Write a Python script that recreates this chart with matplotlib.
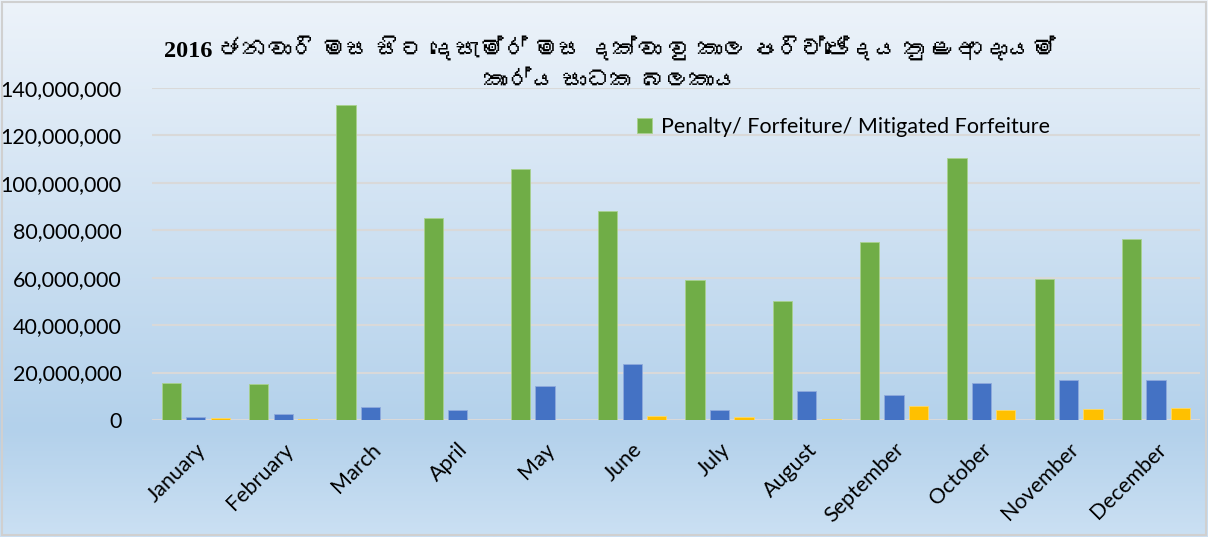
import matplotlib
matplotlib.use("Agg")
import matplotlib.pyplot as plt
from matplotlib import font_manager
from matplotlib.ticker import FuncFormatter
import numpy as np

months = ["January", "February", "March", "April", "May", "June", "July",
          "August", "September", "October", "November", "December"]
penalty = [15.6, 15.2, 132.9, 85.2, 105.9, 88.2, 59.1, 50.2, 75.1, 110.5, 59.5, 76.4]
series2 = [1.4, 2.7, 5.5, 4.2, 14.3, 23.5, 4.2, 12.4, 10.5, 15.6, 16.7, 16.9]
series3 = [0.8, 0.3, 0.0, 0.0, 0.0, 1.8, 1.2, 0.3, 6.0, 4.2, 4.6, 5.2]
title = "2016 ජනවාරි මස සිට දෙසැම්ර් මස දක්වා වු කාල පරිච්ඡේදය තුළ ආදායම්\nකාර්ය සාධක බලකාය"


def find_sinhala_font():
    # look for any installed font that covers Sinhala
    try:
        from fontTools.ttLib import TTFont
    except ImportError:
        return None
    for f in font_manager.fontManager.ttflist:
        try:
            tt = TTFont(f.fname, fontNumber=0, lazy=True)
            cmap = tt.getBestCmap()
            if cmap and 0x0DA2 in cmap and 0x0DD2 in cmap:
                return f.name
        except Exception:
            continue
    return None


sin_font = find_sinhala_font()
title_family = ["Liberation Serif"] + ([sin_font] if sin_font else []) + ["DejaVu Sans"]

plt.rcParams["font.family"] = ["Lato", "DejaVu Sans"]

fig = plt.figure(figsize=(12.08, 5.37), dpi=100)

# background gradient, light at top, bluer near the month labels
bg = fig.add_axes([0, 0, 1, 1], zorder=-10)
top_c = np.array([0xed, 0xf3, 0xfa]) / 255
mid_c = np.array([0xb3, 0xd1, 0xeb]) / 255
bot_c = np.array([0xcb, 0xe0, 0xf3]) / 255
t = np.linspace(0, 1, 300)[:, None]
grad = np.where(t < 0.8, top_c + (mid_c - top_c) * (t / 0.8),
                mid_c + (bot_c - mid_c) * ((t - 0.8) / 0.2))
bg.imshow(grad[:, None, :].repeat(2, axis=1), aspect="auto", extent=[0, 1, 0, 1],
          origin="upper")
bg.axis("off")
fig.patches.append(plt.Rectangle((0.002, 0.003), 0.996, 0.994, transform=fig.transFigure,
                                 fill=False, edgecolor="#d0d0d0", linewidth=1.5))

ax = fig.add_axes([0.126, 0.218, 0.867, 0.618])
ax.patch.set_alpha(0)

x = np.arange(len(months))
w = 0.22
step = 0.28
vals = [np.array(v) * 1e6 for v in (penalty, series2, series3)]
ax.bar(x - step, vals[0], w, color="#70ad47", edgecolor="#a9d18e", linewidth=0.6,
       label="Penalty/ Forfeiture/ Mitigated Forfeiture", zorder=3)
ax.bar(x, vals[1], w, color="#4472c4", edgecolor="#8faadc", linewidth=0.6, zorder=3)
ax.bar(x + step, vals[2], w, color="#ffc000", edgecolor="#ffd966", linewidth=0.6, zorder=3)

ax.set_xlim(-0.5, 11.5)
ax.set_ylim(0, 140e6)
ax.set_yticks(np.arange(0, 140e6 + 1, 20e6))
ax.yaxis.set_major_formatter(FuncFormatter(lambda v, p: f"{int(v):,}"))
ax.grid(axis="y", color="#d9d9d9", linewidth=1.5, zorder=0)
for s in ax.spines.values():
    s.set_visible(False)
ax.tick_params(length=0)
ax.tick_params(axis="y", labelsize=15.5, pad=22)
ax.set_xticks(x)
ax.set_xticklabels(months, rotation=45, ha="right", rotation_mode="anchor", fontsize=15.5)
ax.tick_params(axis="x", pad=14)

ax.legend(loc="upper left", bbox_to_anchor=(0.455, 0.94), frameon=False, fontsize=15.5,
          handlelength=0.7, handleheight=0.7, handletextpad=0.4, borderaxespad=0)

fig.text(0.505, 0.88, title, ha="center", va="center", fontsize=17.5, fontweight="bold",
         family=title_family, linespacing=1.6)

fig.savefig("out.png", dpi=100)
